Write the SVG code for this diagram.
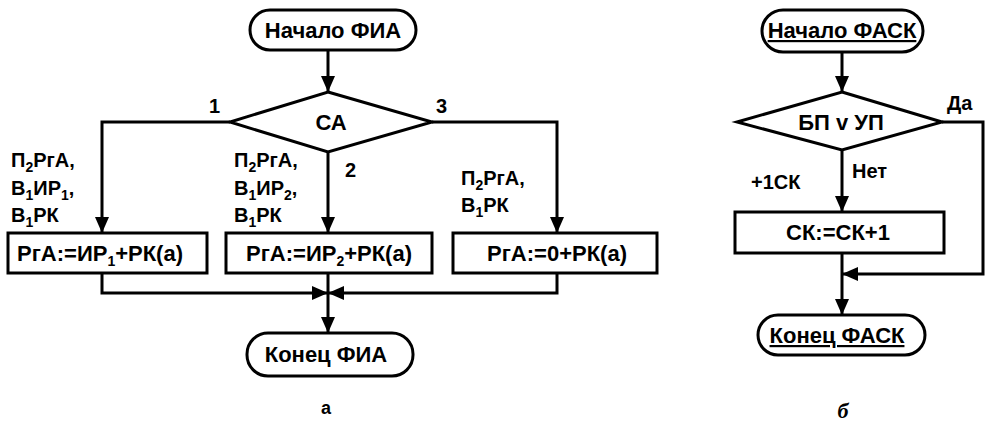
<svg xmlns="http://www.w3.org/2000/svg" width="988" height="428" viewBox="0 0 988 428">
<style>
.s{fill:none;stroke:#000;stroke-width:3}
.b{fill:#fff;stroke:#000;stroke-width:3}
.t{font-family:"Liberation Sans",Arial,sans-serif;font-weight:bold;font-size:22px;fill:#000}
.l{font-size:20px}
.c{text-anchor:middle}
.sub{font-size:14px}
</style>
<defs>
<marker id="ar" viewBox="0 0 16 14" refX="16" refY="7" markerWidth="16" markerHeight="14" markerUnits="userSpaceOnUse" orient="auto">
<path d="M0,0 L16,7 L0,14 Z" fill="#000"/>
</marker>
</defs>
<g id="connectors">
<path class="s" d="M328,50 V92" marker-end="url(#ar)"/>
<path class="s" d="M230,122 H102 V233" marker-end="url(#ar)"/>
<path class="s" d="M328,152 V233" marker-end="url(#ar)"/>
<path class="s" d="M432,122 H557 V233" marker-end="url(#ar)"/>
<path class="s" d="M102,273 V293 H328" marker-end="url(#ar)"/>
<path class="s" d="M557,273 V293 H328" marker-end="url(#ar)"/>
<path class="s" d="M328,273 V333" marker-end="url(#ar)"/>
<path class="s" d="M842,52 V92" marker-end="url(#ar)"/>
<path class="s" d="M842,150 V212" marker-end="url(#ar)"/>
<path class="s" d="M942,122 H983 V274 H842" marker-end="url(#ar)"/>
<path class="s" d="M842,253 V315" marker-end="url(#ar)"/>
</g>
<g id="start-fia">
<rect class="b" x="250" y="10" width="166" height="40" rx="20"/>
<text class="t c" x="333" y="38">Начало ФИА</text>
</g>
<g id="ca">
<path class="b" d="M328,92 L432,122 L328,152 L230,122 Z"/>
<text class="t c" x="331" y="130">СА</text>
</g>
<text class="t l" x="209" y="113">1</text>
<text class="t l" x="436" y="113">3</text>
<text class="t l" x="345" y="177">2</text>
<text class="t l" x="11" y="167">П<tspan class="sub" dy="5">2</tspan><tspan dy="-5">РгА,</tspan></text>
<text class="t l" x="11" y="195">В<tspan class="sub" dy="5">1</tspan><tspan dy="-5">ИР</tspan><tspan class="sub" dy="5">1</tspan><tspan dy="-5">,</tspan></text>
<text class="t l" x="11" y="222">В<tspan class="sub" dy="5">1</tspan><tspan dy="-5">РК</tspan></text>
<text class="t l" x="234" y="167">П<tspan class="sub" dy="5">2</tspan><tspan dy="-5">РгА,</tspan></text>
<text class="t l" x="234" y="195">В<tspan class="sub" dy="5">1</tspan><tspan dy="-5">ИР</tspan><tspan class="sub" dy="5">2</tspan><tspan dy="-5">,</tspan></text>
<text class="t l" x="234" y="222">В<tspan class="sub" dy="5">1</tspan><tspan dy="-5">РК</tspan></text>
<text class="t l" x="461" y="185">П<tspan class="sub" dy="5">2</tspan><tspan dy="-5">РгА,</tspan></text>
<text class="t l" x="461" y="212">В<tspan class="sub" dy="5">1</tspan><tspan dy="-5">РК</tspan></text>
<g id="box1">
<rect class="b" x="8" y="233" width="199" height="40"/>
<text class="t c" x="100" y="261">РгА:=ИР<tspan class="sub" dy="5">1</tspan><tspan dy="-5">+РК(а)</tspan></text>
</g>
<g id="box2">
<rect class="b" x="226" y="233" width="206" height="40"/>
<text class="t c" x="329" y="261">РгА:=ИР<tspan class="sub" dy="5">2</tspan><tspan dy="-5">+РК(а)</tspan></text>
</g>
<g id="box3">
<rect class="b" x="453" y="233" width="204" height="40"/>
<text class="t c" x="557" y="261">РгА:=0+РК(а)</text>
</g>
<g id="end-fia">
<rect class="b" x="247" y="333" width="166" height="43" rx="21"/>
<text class="t c" x="326" y="362">Конец ФИА</text>
</g>
<text class="t c" x="326" y="414" style="font-size:18px">а</text>
<g id="start-fask">
<rect class="b" x="762" y="10" width="161" height="42" rx="21"/>
<text class="t c" x="842" y="38" text-decoration="underline">Начало ФАСК</text>
</g>
<g id="bp-up">
<path class="b" d="M842,92 L942,122 L842,150 L737,122 Z"/>
<text class="t c" x="841" y="130">БП v УП</text>
</g>
<text class="t l" x="947" y="110">Да</text>
<text class="t l" x="852" y="178">Нет</text>
<text class="t l" x="751" y="189">+1СК</text>
<g id="box-ck">
<rect class="b" x="735" y="212" width="209" height="41"/>
<text class="t c" x="838" y="240">СК:=СК+1</text>
</g>
<g id="end-fask">
<rect class="b" x="758" y="315" width="167" height="40" rx="20"/>
<text class="t c" x="837" y="343" text-decoration="underline">Конец ФАСК</text>
</g>
<text x="843" y="418" style="font-family:'Liberation Serif',serif;font-style:italic;font-weight:bold;font-size:22px" text-anchor="middle">б</text>
</svg>
